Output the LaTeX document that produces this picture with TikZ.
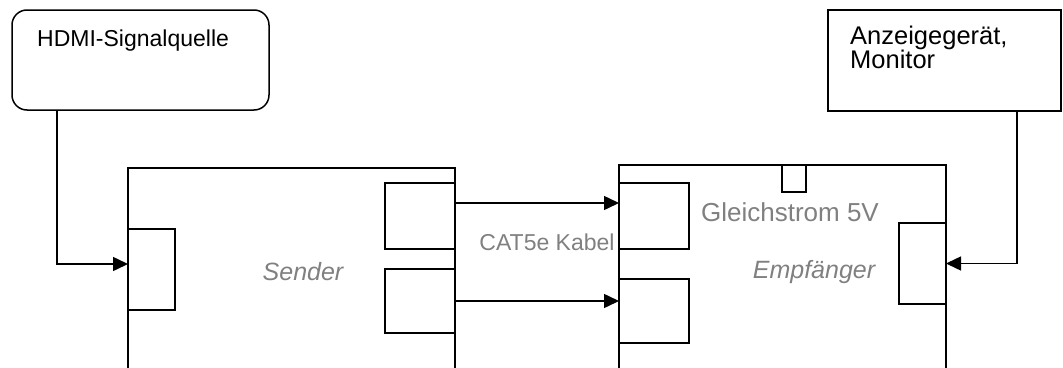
\documentclass[tikz,border=0pt]{standalone}
\usepackage{fontspec}
\setmainfont{Liberation Sans}
\usetikzlibrary{arrows.meta}
\tikzset{
  box/.style = {draw, line width=1.5pt, inner sep=0pt, outer sep=0pt},
  conn/.style = {line width=1.5pt, -{Triangle[length=15pt,width=14pt]}},
  grey/.style = {text=black!50, inner sep=0pt}
}
\begin{document}
\begin{tikzpicture}[x=1pt, y=-1pt]
\clip (0, 0) rectangle (1063, 367);
% source and display
\node[box, rounded corners=15pt, minimum width=257, minimum height=100] (src) at (140.5, 60) {};
\node[anchor=base west, inner sep=0pt, font=\fontsize{23}{27}\selectfont] (srctxt) at (37, 46.7) {HDMI-Signalquelle};
\node[box, minimum width=233, minimum height=101] (mon) at (944.5, 60.5) {};
\node[anchor=base west, inner sep=0pt, align=left, font=\fontsize{25.5}{24}\selectfont] (montxt) at (850, 68) {Anzeigeger\"at,\\Monitor};
% sender and receiver, open at the bottom
\node[box, minimum width=327, minimum height=232] (sender) at (291.5, 284) {};
\node[box, minimum width=327, minimum height=235] (rcv) at (782.5, 282.5) {};
% ports
\node[box, minimum width=47, minimum height=81] (inport) at (151.5, 269.5) {};
\node[box, minimum width=70, minimum height=66] (sp1) at (420, 216) {};
\node[box, minimum width=70, minimum height=64] (sp2) at (420, 301) {};
\node[box, minimum width=70, minimum height=66] (rp1) at (654, 216) {};
\node[box, minimum width=70, minimum height=64] (rp2) at (654, 311) {};
\node[box, minimum width=47, minimum height=81] (outport) at (922.5, 263.5) {};
\node[box, minimum width=24, minimum height=27] (dc) at (794, 178.5) {};
% labels
\node[grey, font=\fontsize{25}{30}\selectfont\itshape] (sendtxt) at (303, 272) {Sender};
\node[grey, font=\fontsize{25}{30}\selectfont\itshape] (rcvtxt) at (814, 272) {Empf\"anger};
\node[grey, font=\fontsize{23}{27}\selectfont] (cable) at (547, 242) {CAT5e Kabel};
\node[grey, font=\fontsize{26}{30}\selectfont] (dctxt) at (790, 212) {Gleichstrom 5V};
% connections
\draw[conn] ([xshift=-83.5pt]src.south) |- ([yshift=5.5pt]inport.west);
\draw[conn] ([xshift=72.5pt]mon.south) |- (outport.east);
\draw[conn] ([yshift=13pt]sp1.east) -- ([yshift=13pt]rp1.west);
\draw[conn] (sp2.east) -- (sp2.east -| rp2.west);
\end{tikzpicture}
\end{document}
